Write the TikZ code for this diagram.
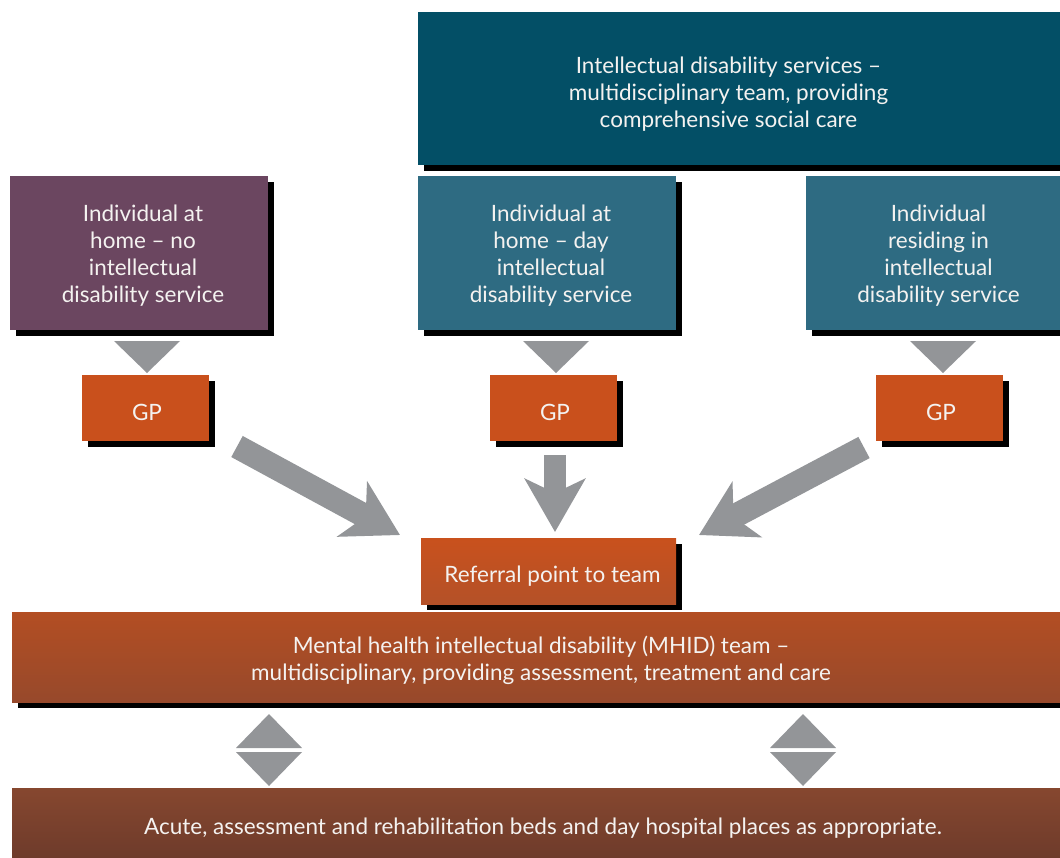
\documentclass[tikz,border=0pt]{standalone}
\usepackage{fontspec}
\setmainfont{Lato}
\usetikzlibrary{arrows.meta,shadows}
\definecolor{purplebox}{HTML}{6B4660}
\definecolor{tealdark}{HTML}{034F66}
\definecolor{tealmid}{HTML}{2E6B82}
\definecolor{gporange}{HTML}{C9501C}
\definecolor{reftop}{HTML}{C9511D}
\definecolor{refbot}{HTML}{B45128}
\definecolor{mhidtop}{HTML}{B34E23}
\definecolor{mhidbot}{HTML}{97492B}
\definecolor{bedtop}{HTML}{86472F}
\definecolor{bedbot}{HTML}{6E3B2B}
\definecolor{arrowgray}{HTML}{939598}
\definecolor{txt}{HTML}{F4F2F0}
\begin{document}
\begin{tikzpicture}[x=1pt,y=-1pt,
  box/.style={inner sep=0pt,
    drop shadow={shadow xshift=6pt, shadow yshift=-6pt, fill=black, opacity=1}},
  flatbox/.style={inner sep=0pt},
  lbl/.style={text=txt, align=center, font=\fontsize{22.5}{27}\selectfont, inner sep=0pt},
  blockarrow/.style={draw=arrowgray, line width=#1},
  tri/.style={fill=arrowgray},
]
\useasboundingbox (0,0) rectangle (1060,857);

% top box
\node[box, fill=tealdark, minimum width=642pt, minimum height=153pt] (ids) at (739,88.5) {};
\node[lbl] (idst) at ([shift={(-10.5,6)}]ids.center)
  {Intellectual disability services --\\multidisciplinary team, providing\\comprehensive social care};

% individuals
\node[box, fill=purplebox, minimum width=258pt, minimum height=154pt] (ind1) at (139,253) {};
\node[lbl] (ind1t) at ([shift={(4,3)}]ind1.center) {Individual at\\home -- no\\intellectual\\disability service};
\node[box, fill=tealmid, minimum width=258pt, minimum height=154pt] (ind2) at (547,253) {};
\node[lbl] (ind2t) at ([shift={(4,3)}]ind2.center) {Individual at\\home -- day\\intellectual\\disability service};
\node[box, fill=tealmid, minimum width=254pt, minimum height=154pt] (ind3) at (933,253) {};
\node[lbl] (ind3t) at ([shift={(5.5,3)}]ind3.center) {Individual\\residing in\\intellectual\\disability service};

% GP boxes
\node[box, fill=gporange, minimum width=127pt, minimum height=66pt] (gp1) at (145.5,408) {};
\node[lbl] (gp1t) at ([shift={(1.5,4)}]gp1.center) {GP};
\node[box, fill=gporange, minimum width=127pt, minimum height=66pt] (gp2) at (553.5,408) {};
\node[lbl] (gp2t) at ([shift={(1.5,4)}]gp2.center) {GP};
\node[box, fill=gporange, minimum width=127pt, minimum height=66pt] (gp3) at (939.5,408) {};
\node[lbl] (gp3t) at ([shift={(1.5,4)}]gp3.center) {GP};

% referral
\node[box, top color=reftop, bottom color=refbot, minimum width=255pt, minimum height=66pt] (ref) at (548.5,571) {};
\node[lbl] (reft) at ([shift={(4,5)}]ref.center) {Referral point to team};

% MHID
\node[box, top color=mhidtop, bottom color=mhidbot, minimum width=1048pt, minimum height=90pt] (mhid) at (536,657) {};
\node[lbl] (mhidt) at ([shift={(5,3)}]mhid.center)
  {Mental health intellectual disability (MHID) team --\\multidisciplinary, providing assessment, treatment and care};

% beds
\node[flatbox, top color=bedtop, bottom color=bedbot, minimum width=1048pt, minimum height=70pt] (beds) at (536,823) {};
\node[lbl] (bedst) at ([shift={(7,5)}]beds.center)
  {Acute, assessment and rehabilitation beds and day hospital places as appropriate.};

% down triangles individual -> GP
\fill[tri] (114,341) -- (180,341) -- (147,373) -- cycle;
\fill[tri] (523,341) -- (589,341) -- (556,373) -- cycle;
\fill[tri] (910,341) -- (976,341) -- (943,373) -- cycle;

% block arrows GP -> referral
\coordinate (a1s) at (237,446.5);
\coordinate (a1e) at (400,535);
\coordinate (a2s) at (555,455);
\coordinate (a2e) at (555,532);
\coordinate (a3s) at (864,447.5);
\coordinate (a3e) at (699,535);
\draw[blockarrow=24pt, -{Stealth[length=54pt, width=62pt, inset=15pt]}] (a1s) -- (a1e);
\draw[blockarrow=22pt, -{Stealth[length=53pt, width=60pt, inset=14pt]}] (a2s) -- (a2e);
\draw[blockarrow=24pt, -{Stealth[length=54pt, width=62pt, inset=15pt]}] (a3s) -- (a3e);

% double triangles MHID <-> beds
\fill[tri] (236,748) -- (302,748) -- (269,714) -- cycle;
\fill[tri] (236,752) -- (302,752) -- (269,786) -- cycle;
\fill[tri] (770,748) -- (836,748) -- (803,714) -- cycle;
\fill[tri] (770,752) -- (836,752) -- (803,786) -- cycle;
\end{tikzpicture}
\end{document}
